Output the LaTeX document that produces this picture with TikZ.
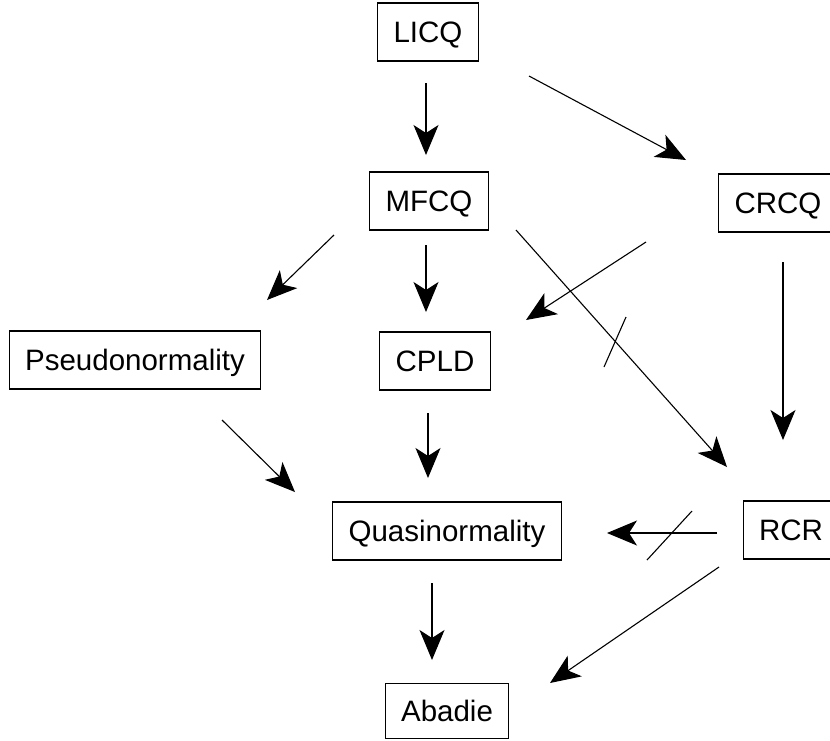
\documentclass[tikz,border=0pt]{standalone}
\usepackage{fontspec}
\setmainfont{Liberation Sans}
\usetikzlibrary{arrows.meta}
\begin{document}
\begin{tikzpicture}[x=1pt,y=-1pt,
 box/.style={draw, line width=1.1pt, minimum height=58pt, inner xsep=16pt, inner ysep=0pt, text height=21pt, text depth=0pt, font=\fontsize{29.5}{30}\selectfont},
 conn/.style={line width=1.1pt, -{Stealth[length=30pt,width=25pt,inset=8pt]}},
 crossmark/.style={line width=1.1pt}]
\useasboundingbox (0,0) rectangle (830,740);
\clip (0,0) rectangle (830,740);
\node[box] (licq) at (428,32) {LICQ};
\node[box] (mfcq) at (429,201) {MFCQ};
\node[box] (crcq) at (778,203) {CRCQ};
\node[box] (pseudo) at (135,360) {Pseudonormality};
\node[box] (cpld) at (435,361) {CPLD};
\node[box] (quasi) at (447,531) {Quasinormality};
\node[box] (rcr) at (791,530) {RCR};
\node[box, minimum height=55pt] (abadie) at (447,711) {Abadie};
% arrow ends
\coordinate (a1s) at (426,83);  \coordinate (a1e) at (426,155);
\coordinate (a2s) at (529,76);  \coordinate (a2e) at (686,160);
\coordinate (a3s) at (334,235); \coordinate (a3e) at (267,300);
\coordinate (a4s) at (426,245); \coordinate (a4e) at (426,312);
\coordinate (a5s) at (516,230); \coordinate (a5e) at (727,467);
\coordinate (a6s) at (646,242); \coordinate (a6e) at (526,320);
\coordinate (a7s) at (783,262); \coordinate (a7e) at (783,440);
\coordinate (a8s) at (222,420); \coordinate (a8e) at (295,492);
\coordinate (a9s) at (428,413); \coordinate (a9e) at (428,478);
\coordinate (a10s) at (717,533); \coordinate (a10e) at (607,533);
\coordinate (a11s) at (432,583); \coordinate (a11e) at (432,660);
\coordinate (a12s) at (719,567); \coordinate (a12e) at (550,683);
\coordinate (c1s) at (626,317); \coordinate (c1e) at (604,367);
\coordinate (c2s) at (647,560); \coordinate (c2e) at (692,511);
\draw[conn] (a1s) -- (a1e);
\draw[conn] (a2s) -- (a2e);
\draw[conn] (a3s) -- (a3e);
\draw[conn] (a4s) -- (a4e);
\draw[conn] (a5s) -- (a5e);
\draw[conn] (a6s) -- (a6e);
\draw[conn] (a7s) -- (a7e);
\draw[conn] (a8s) -- (a8e);
\draw[conn] (a9s) -- (a9e);
\draw[conn] (a10s) -- (a10e);
\draw[conn] (a11s) -- (a11e);
\draw[conn] (a12s) -- (a12e);
\draw[crossmark] (c1s) -- (c1e);
\draw[crossmark] (c2s) -- (c2e);
\end{tikzpicture}
\end{document}
